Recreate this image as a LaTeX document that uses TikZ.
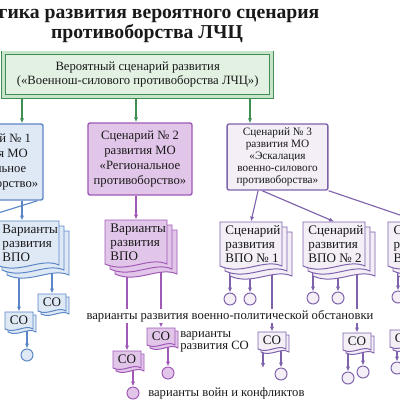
\documentclass[tikz,border=0pt]{standalone}
\usepackage{fontspec}
\setmainfont{Liberation Serif}
\usetikzlibrary{arrows.meta,calc}
\pgfdeclarelayer{back}
\pgfsetlayers{back,main}

\definecolor{cGreen}{HTML}{3F8F55}
\definecolor{cGreenFill}{HTML}{E2F1E2}
\definecolor{cGreenBand}{HTML}{C8E4CB}
\definecolor{cBlue}{HTML}{5B86C6}
\definecolor{cBlueFill}{HTML}{DFE9F6}
\definecolor{cPurple}{HTML}{A05AB5}
\definecolor{cPurpleFill}{HTML}{E2C6EA}
\definecolor{cLav}{HTML}{7E62AC}
\definecolor{cLavFill}{HTML}{F4EEF7}

\tikzset{
  every node/.style={text=black!90, inner sep=0pt},
  scen/.style={draw, line width=1pt, rounded corners=1.5pt, align=center,
    font=\fontsize{9}{10.5}\selectfont},
  conn/.style={line width=0.8pt, -{Latex[length=3.5pt,width=3pt]}},
  greenarrow/.style={conn, draw=cGreen},
  bluearrow/.style={conn, draw=cBlue},
  purplearrow/.style={conn, draw=cPurple},
  lavarrow/.style={conn, draw=cLav},
  dot/.style={circle, draw, line width=0.7pt, minimum size=0.3cm},
  pics/docstack/.style={code={
    \foreach \d in {10,5,0}
      \path[pic actions] (\d,\d) -- ++(62,0) -- ++(0,44)
        .. controls +(-18,-8) and +(22,10) .. ++(-62,0) -- cycle;
    \node[minimum width=1.55cm, minimum height=1.1cm] (-f) at (31,22) {};
    \node[anchor=north west, align=left, font=\fontsize{9.3}{10}\selectfont] (-t) at (5,3) {#1};
  }},
  pics/cobox/.style={code={
    \foreach \d in {3,0}
      \path[pic actions] (\d,\d) -- ++(28,0) -- ++(0,17)
        .. controls +(-8,-5) and +(10,5) .. ++(-28,0) -- cycle;
    \node[minimum width=0.7cm, minimum height=0.425cm, font=\fontsize{9.3}{10}\selectfont] (-f) at (14,8.5) {СО};
  }},
}

\begin{document}
\begin{tikzpicture}[x=0.025cm, y=-0.025cm]
\clip (0,0) rectangle (400,400);

% title
\node[align=center, font=\fontsize{14}{12}\selectfont\bfseries] (title) at (147,24)
  {Логика развития вероятного сценария\\противоборства ЛЧЦ};

% top scenario
\node[draw=cGreen, double=cGreenBand, double distance=2pt, fill=cGreenFill, line width=0.7pt,
  minimum width=6.69cm, minimum height=1.09cm, align=center,
  font=\fontsize{9}{10}\selectfont] (top) at (137.7,74.7)
  {Вероятный сценарий развития\\(«Военнош-силового противоборства ЛЧЦ»)};

\coordinate (g1) at (22,0);
\coordinate (g2) at (136,0);
\coordinate (g3) at (250,0);
\coordinate (lb) at (-40,225);
\coordinate (e1) at (263,368);

% scenarios of MO
\node[scen, draw=cBlue, fill=cBlueFill, minimum width=2.55cm, minimum height=1.9cm] (sc1) at (-8,162)
  {Сценарий № 1\\развития МО\\«Глобальное\\противоборство»};
\node[scen, draw=cPurple, fill=cPurpleFill, minimum width=2.6cm, minimum height=1.8cm] (sc2) at (140,159)
  {Сценарий № 2\\развития МО\\«Региональное\\противоборство»};
\node[scen, draw=cLav, fill=cLavFill, minimum width=2.52cm, minimum height=1.65cm,
  font=\fontsize{8}{8.6}\selectfont] (sc3) at (277.5,157)
  {Сценарий № 3\\развития МО\\«Эскалация\\военно-силового\\противоборства»};

% VPO stacks
\pic[draw=cBlue, fill=cBlueFill, line width=0.7pt] (vb) at (-3,221) {docstack={Варианты\\развития\\ВПО}};
\pic[draw=cPurple, fill=cPurpleFill, line width=0.7pt] (vp) at (105,220) {docstack={Варианты\\развития\\ВПО}};
\pic[draw=cLav, fill=cLavFill, line width=0.7pt] (s1) at (220,222) {docstack={Сценарий\\развития\\ВПО № 1}};
\pic[draw=cLav, fill=cLavFill, line width=0.7pt] (s2) at (303,222) {docstack={Сценарий\\развития\\ВПО № 2}};
\pic[draw=cLav, fill=cLavFill, line width=0.7pt] (s3) at (388,222) {docstack={Сценарий\\развития\\ВПО № 3}};

% CO
\pic[draw=cBlue, fill=cBlueFill, line width=0.7pt] (co1) at (5,312) {cobox};
\pic[draw=cBlue, fill=cBlueFill, line width=0.7pt] (co2) at (38,294) {cobox};
\pic[draw=cPurple, fill=cPurpleFill, line width=0.7pt] (coa) at (113,351) {cobox};
\pic[draw=cPurple, fill=cPurpleFill, line width=0.7pt] (cob) at (147,328) {cobox};
\pic[draw=cLav, fill=cLavFill, line width=0.7pt] (cs1) at (258,332) {cobox};
\pic[draw=cLav, fill=cLavFill, line width=0.7pt] (cs2) at (343,333) {cobox};
\pic[draw=cLav, fill=cLavFill, line width=0.7pt] (cs3) at (390,330) {cobox};

% circles
\node[dot, draw=cBlue, fill=cBlueFill] (cb1) at (27,355) {};
\node[dot, draw=cPurple, fill=cPurpleFill] (cpa) at (133,393) {};
\node[dot, draw=cPurple, fill=cPurpleFill] (cpb) at (168,373) {};
\foreach \n/\x/\y in {s1a/230/299, s1b/250/299, s2a/313/298, s2b/338/298, s3a/398/297,
    c1b/281/374, c2a/348/378, c2b/363/372, c3a/397/368}
  \node[dot, draw=cLav, fill=cLavFill] (\n) at (\x,\y) {};

% labels
\node[fill=white, inner sep=1pt, font=\fontsize{9}{10}\selectfont] (vpo) at (230,316)
  {варианты развития военно-политической обстановки};
\node[anchor=west, align=left, font=\fontsize{9}{9}\selectfont] (vso) at (180,342)
  {варианты\\развития СО};
\node[anchor=west, font=\fontsize{9}{10}\selectfont] (vwar) at (148,393)
  {варианты войн и конфликтов};

% connectors
\begin{pgfonlayer}{back}
\foreach \g/\s in {g1/sc1, g2/sc2, g3/sc3}
  \draw[greenarrow] (top.south -| \g) -- (\s.north -| \g);
\draw[bluearrow] (sc1.south -| g1) -- (vb-f.north -| g1);
\draw[bluearrow] ($(sc1.south west)!0.94!(sc1.south east)$) -- (lb);
\draw[bluearrow] (co1-f.north |- vb-f.center) -- (co1-f.north);
\draw[bluearrow] (co2-f.north |- vb-f.center) -- (co2-f.north);
\draw[bluearrow] (cb1.north |- co1-f.center) -- (cb1.north);
\draw[purplearrow] (sc2.south -| g2) -- (vp-f.north -| g2);
\draw[purplearrow] (coa-f.north |- vp-f.center) -- (coa-f.north);
\draw[purplearrow] (cob-f.north |- vp-f.center) -- (cob-f.north);
\draw[purplearrow] (cpa.north |- coa-f.center) -- (cpa.north);
\draw[purplearrow] (cpb.north |- cob-f.center) -- (cpb.north);
\draw[lavarrow] ($(sc3.south west)!0.31!(sc3.south east)$) -- (s1-f.north);
\draw[lavarrow] ($(sc3.south west)!0.35!(sc3.south east)$) -- (s2-f.north);
\draw[lavarrow] (sc3.south east) -- (s3-f.north);
\foreach \c/\s in {s1a/s1, s1b/s1, s2a/s2, s2b/s2, s3a/s3}
  \draw[lavarrow] (\c.north |- \s-f.center) -- (\c.north);
\foreach \c/\s in {cs1/s1, cs2/s2, cs3/s3}
  \draw[lavarrow] (\c-f.north |- \s-f.center) -- (\c-f.north);
\foreach \c/\s in {c1b/cs1, c2a/cs2, c2b/cs2, c3a/cs3}
  \draw[lavarrow] (\c.north |- \s-f.center) -- (\c.north);
\draw[lavarrow] (e1 |- cs1-f.center) -- (e1);
\end{pgfonlayer}
\end{tikzpicture}
\end{document}
